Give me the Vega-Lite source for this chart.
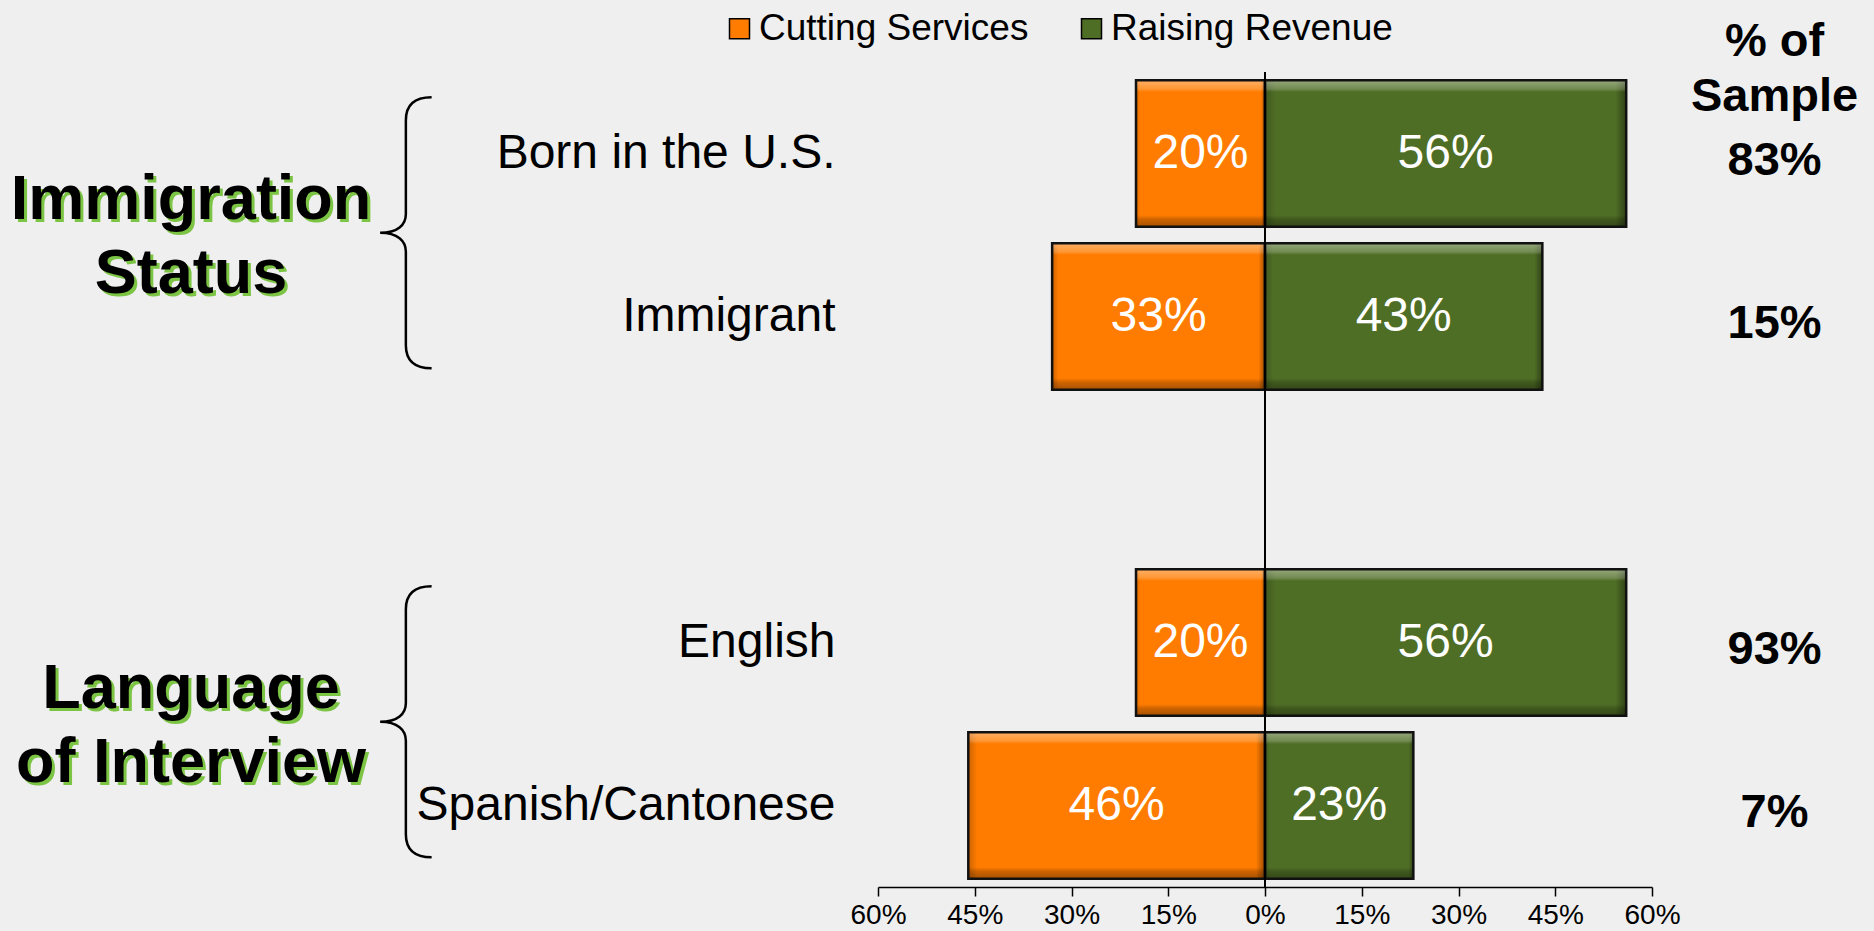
{
  "$schema": "https://vega.github.io/schema/vega-lite/v6.json",
  "width": 774,
  "height": 815,
  "autosize": {"type": "none"},
  "padding": {"left": 878, "top": 72, "right": 222, "bottom": 44},
  "background": "#efefef",
  "config": {"view": {"stroke": null}, "font": "Liberation Sans"},
  "datasets": {
    "bars": [
      {"group": "Born in the U.S.", "series": "Cutting Services", "value": -20},
      {"group": "Born in the U.S.", "series": "Raising Revenue", "value": 56},
      {"group": "Immigrant", "series": "Cutting Services", "value": -33},
      {"group": "Immigrant", "series": "Raising Revenue", "value": 43},
      {"group": "English", "series": "Cutting Services", "value": -20},
      {"group": "English", "series": "Raising Revenue", "value": 56},
      {"group": "Spanish/Cantonese", "series": "Cutting Services", "value": -46},
      {"group": "Spanish/Cantonese", "series": "Raising Revenue", "value": 23}
    ],
    "sample": [
      {"group": "Born in the U.S.", "share": "83%"},
      {"group": "Immigrant", "share": "15%"},
      {"group": "English", "share": "93%"},
      {"group": "Spanish/Cantonese", "share": "7%"}
    ],
    "sections": [
      {"section": ["Immigration", "Status"], "first": "Born in the U.S."},
      {"section": ["Language", "of Interview"], "first": "English"}
    ]
  },
  "layer": [
    {
      "data": {"name": "bars"},
      "mark": {"type": "bar"},
      "encoding": {
        "y": {
          "field": "group", "type": "nominal", "title": null,
          "scale": {"domain": ["Born in the U.S.", "Immigrant", " ", "English", "Spanish/Cantonese"], "paddingInner": 0.1, "paddingOuter": 0.05},
          "axis": {"domain": false, "ticks": false, "labelFontSize": 48, "labelColor": "black", "labelPadding": 43, "labelLimit": 0, "labelFont": "Liberation Sans"}
        },
        "x": {
          "field": "value", "type": "quantitative", "title": null,
          "scale": {"domain": [-60, 60], "nice": false},
          "axis": {"values": [-60, -45, -30, -15, 0, 15, 30, 45, 60], "labelExpr": "abs(datum.value) + '%'", "grid": false, "domainColor": "black", "domainWidth": 1.5, "tickColor": "black", "tickWidth": 1.5, "tickSize": 9, "labelFontSize": 28, "labelColor": "black", "labelPadding": 5, "labelFlush": false, "labelOverlap": false, "labelFont": "Liberation Sans"}
        },
        "x2": {"datum": 0},
        "color": {
          "field": "series", "type": "nominal",
          "scale": {"domain": ["Cutting Services", "Raising Revenue"], "range": ["#ff7c00", "#4f6e25"]},
          "legend": {"title": null, "orient": "none", "legendX": -157, "legendY": -62, "direction": "horizontal", "symbolType": "square", "symbolSize": 400, "symbolStrokeColor": "black", "symbolStrokeWidth": 1.5, "symbolOpacity": 1, "labelFontSize": 37, "labelColor": "black", "labelFont": "Liberation Sans", "labelOffset": 1, "columnPadding": 44, "padding": 0, "labelLimit": 0}
        }
      }
    },
    {
      "data": {"name": "bars"},
      "mark": {"type": "bar", "fill": {"gradient": "linear", "x1": 0, "y1": 0, "x2": 1, "y2": 0, "stops": [{"offset": 0, "color": "rgba(0,0,0,0.2)"}, {"offset": 0.03, "color": "rgba(0,0,0,0)"}, {"offset": 0.97, "color": "rgba(0,0,0,0)"}, {"offset": 1, "color": "rgba(0,0,0,0.4)"}]}},
      "encoding": {
        "y": {"field": "group", "type": "nominal", "title": null},
        "x": {"field": "value", "type": "quantitative", "title": null},
        "x2": {"datum": 0}
      }
    },
    {
      "data": {"name": "bars"},
      "mark": {"type": "bar", "stroke": "#111111", "strokeWidth": 2.5, "fill": {"gradient": "linear", "x1": 0, "y1": 0, "x2": 0, "y2": 1, "stops": [{"offset": 0, "color": "rgba(255,255,255,0.4)"}, {"offset": 0.06, "color": "rgba(255,255,255,0.2)"}, {"offset": 0.08, "color": "rgba(255,255,255,0)"}, {"offset": 0.92, "color": "rgba(0,0,0,0)"}, {"offset": 0.95, "color": "rgba(0,0,0,0.2)"}, {"offset": 1, "color": "rgba(0,0,0,0.35)"}]}},
      "encoding": {
        "y": {"field": "group", "type": "nominal", "title": null},
        "x": {"field": "value", "type": "quantitative", "title": null},
        "x2": {"datum": 0}
      }
    },
    {
      "data": {"name": "bars"},
      "transform": [
        {"calculate": "datum.value / 2", "as": "mid"},
        {"calculate": "abs(datum.value) + '%'", "as": "label"}
      ],
      "mark": {"type": "text", "color": "white", "fontSize": 48, "font": "Liberation Sans", "align": "center", "baseline": "middle"},
      "encoding": {
        "y": {"field": "group", "type": "nominal", "title": null},
        "x": {"field": "mid", "type": "quantitative", "title": null},
        "text": {"field": "label"}
      }
    },
    {
      "data": {"values": [{}]},
      "mark": {"type": "rule", "color": "black", "strokeWidth": 2},
      "encoding": {"x": {"datum": 0, "type": "quantitative"}}
    },
    {
      "data": {"name": "sample"},
      "mark": {"type": "text", "color": "black", "fontSize": 47, "fontWeight": "bold", "font": "Liberation Sans", "align": "center", "baseline": "middle", "dy": 7},
      "encoding": {
        "y": {"field": "group", "type": "nominal", "title": null},
        "x": {"datum": 79, "type": "quantitative"},
        "text": {"field": "share"}
      }
    },
    {
      "data": {"values": [{}]},
      "mark": {"type": "text", "text": ["% of", "Sample"], "lineHeight": 55, "color": "black", "fontSize": 47, "fontWeight": "bold", "font": "Liberation Sans", "align": "center", "baseline": "middle", "dy": -112},
      "encoding": {
        "y": {"datum": "Born in the U.S.", "type": "nominal"},
        "x": {"datum": 79, "type": "quantitative"}
      }
    },
    {
      "data": {"name": "sections"},
      "mark": {"type": "text", "lineHeight": 74, "color": "#7cc444", "fontSize": 63, "fontWeight": "bold", "font": "Liberation Sans", "align": "center", "baseline": "middle", "yOffset": 8, "dx": 3, "dy": -32},
      "encoding": {
        "y": {"field": "first", "type": "nominal", "title": null, "bandPosition": 1},
        "x": {"datum": -166.5, "type": "quantitative"},
        "text": {"field": "section"}
      }
    },
    {
      "data": {"name": "sections"},
      "mark": {"type": "text", "lineHeight": 74, "color": "black", "fontSize": 63, "fontWeight": "bold", "font": "Liberation Sans", "align": "center", "baseline": "middle", "yOffset": 8, "dy": -35},
      "encoding": {
        "y": {"field": "first", "type": "nominal", "title": null, "bandPosition": 1},
        "x": {"datum": -166.5, "type": "quantitative"},
        "text": {"field": "section"}
      }
    },
    {
      "data": {"name": "sections"},
      "mark": {"type": "point", "shape": "M 0.19 -1 C 0.05 -1 0 -0.93 0 -0.83 L 0 -0.14 C 0 -0.06 -0.06 0 -0.19 0 C -0.06 0 0 0.06 0 0.14 L 0 0.83 C 0 0.93 0.05 1 0.19 1", "size": 73441, "filled": false, "stroke": "black", "strokeWidth": 2.5, "opacity": 1, "yOffset": 6},
      "encoding": {
        "y": {"field": "first", "type": "nominal", "title": null, "bandPosition": 1},
        "x": {"datum": -133.2, "type": "quantitative"}
      }
    }
  ]
}
